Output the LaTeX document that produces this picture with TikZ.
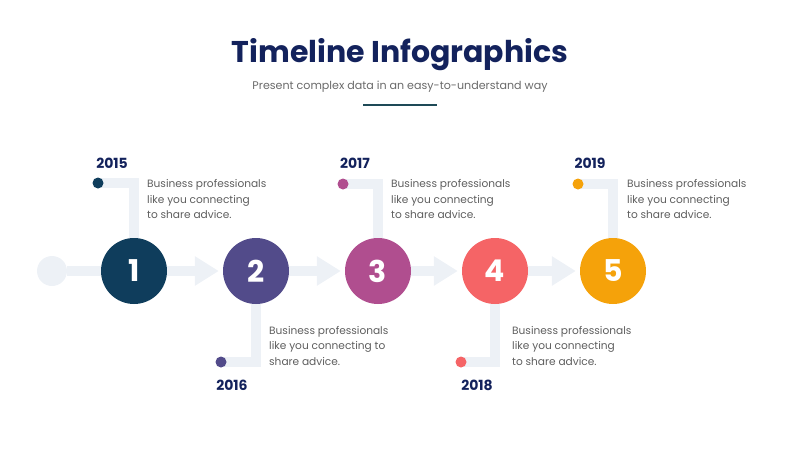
\documentclass[tikz,border=0pt]{standalone}
\usepackage{fontspec}
\setmainfont{Poppins}
\usetikzlibrary{arrows.meta,backgrounds}
\definecolor{navy}{HTML}{13225C}
\definecolor{barcol}{HTML}{1E4A57}
\definecolor{subgray}{HTML}{6A6A6A}
\definecolor{txtgray}{HTML}{5E5E5E}
\definecolor{trackcol}{HTML}{EDF1F6}
\definecolor{colA}{HTML}{0F3D5C}
\definecolor{colB}{HTML}{524B8A}
\definecolor{colC}{HTML}{B04E8F}
\definecolor{colD}{HTML}{F56466}
\definecolor{colE}{HTML}{F5A20A}
\begin{document}
\begin{tikzpicture}[x=1pt,y=-1pt,
  bigcircle/.style={circle, minimum size=66pt, inner sep=0pt, text=white,
    font=\bfseries\fontsize{30}{32}\selectfont},
  smalldot/.style={circle, minimum size=11pt, inner sep=0pt},
  track/.style={draw=trackcol, line width=10pt, line join=miter},
  yeartext/.style={font=\bfseries\fontsize{14}{16}\selectfont, text=navy, inner sep=0pt},
  bodytext/.style={font=\fontsize{10.6}{15.5}\selectfont, text=txtgray, align=left, inner sep=0pt, anchor=north west},
  tip/.style={-{Triangle[length=24pt,width=28pt]}, shorten >=4pt}
]
\useasboundingbox (0,0) rectangle (800,450);
% title
\node[font=\bfseries\fontsize{30}{34}\selectfont, text=navy] (title) at (400,55) {Timeline Infographics};
\node[font=\fontsize{11.1}{14}\selectfont, text=subgray] (subtitle) at (400,87) {Present complex data in an easy-to-understand way};
\node[fill=barcol, minimum width=74pt, minimum height=2.5pt, inner sep=0pt] (bar) at (400,105) {};
% circles
\node[circle, minimum size=30pt, inner sep=0pt, fill=trackcol] (c0) at (52,271) {};
\node[bigcircle, fill=colA] (c1) at (134,271) {1};
\node[bigcircle, fill=colB] (c2) at (256,271) {2};
\node[bigcircle, fill=colC] (c3) at (378,271) {3};
\node[bigcircle, fill=colD] (c4) at (495,271) {4};
\node[bigcircle, fill=colE] (c5) at (613,271) {5};
% dots
\node[smalldot, fill=colA] (d1) at (98,183) {};
\node[smalldot, fill=colB] (d2) at (221,362) {};
\node[smalldot, fill=colC] (d3) at (343,184) {};
\node[smalldot, fill=colD] (d4) at (461,362) {};
\node[smalldot, fill=colE] (d5) at (578,184) {};
% years
\node[yeartext] (y1) at (112,163) {2015};
\node[yeartext] (y2) at (232,385) {2016};
\node[yeartext] (y3) at (355,163) {2017};
\node[yeartext] (y4) at (477,385) {2018};
\node[yeartext] (y5) at (590,163) {2019};
% texts
\node[bodytext] (t1) at (147,179.5) {Business professionals\\like you connecting\\to share advice.};
\node[bodytext] (t2) at (269,326) {Business professionals\\like you connecting to\\share advice.};
\node[bodytext] (t3) at (391,179.5) {Business professionals\\like you connecting\\to share advice.};
\node[bodytext] (t4) at (512,326) {Business professionals\\like you connecting\\to share advice.};
\node[bodytext] (t5) at (627,179.5) {Business professionals\\like you connecting\\to share advice.};
% tracks
\begin{scope}[on background layer]
\draw[track] (c0) -- (c1);
\draw[track, tip] (c1) -- (c2);
\draw[track, tip] (c2) -- (c3);
\draw[track, tip] (c3) -- (c4);
\draw[track, tip] (c4) -- (c5);
\draw[track] (d1.center) -| (c1.center);
\draw[track] (d2.center) -| (c2.center);
\draw[track] (d3.center) -| (c3.center);
\draw[track] (d4.center) -| (c4.center);
\draw[track] (d5.center) -| (c5.center);
\end{scope}
\end{tikzpicture}
\end{document}
